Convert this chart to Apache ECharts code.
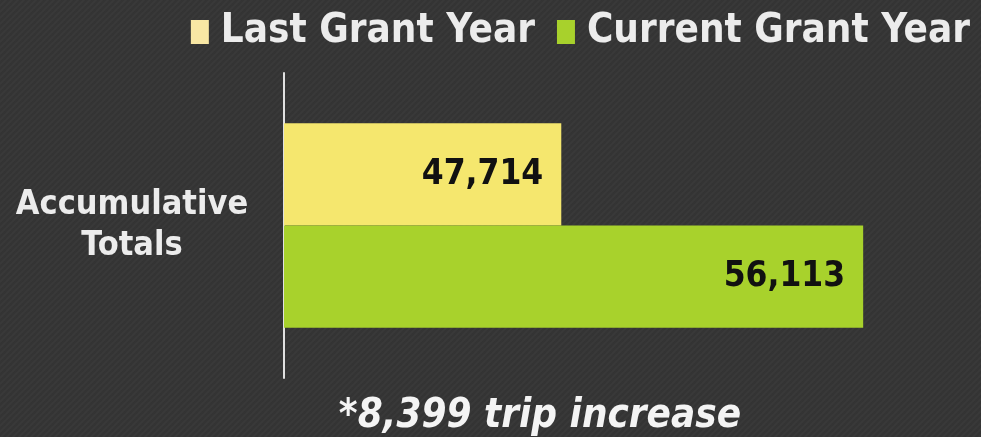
<!DOCTYPE html>
<html>
<head>
    <meta charset="utf-8">
    <title>Accumulative Totals</title>
    <script src="https://cdn.jsdelivr.net/npm/echarts@6/dist/echarts.min.js"></script>
    <style>
        html, body { margin: 0; padding: 0; background: #363636; }
        #chart { width: 981px; height: 437px; }
    </style>
</head>
<body>
    <div id="chart"></div>
    <script type="text/javascript">
        // data
        var categories = ['Accumulative\nTotals'];
        var lastYear = [47714];
        var currentYear = [56113];
        var seriesNames = ['Last Grant Year', 'Current Grant Year'];
        var note = '*8,399 trip increase';

        var font = "'DejaVu Sans Condensed', 'DejaVu Sans', sans-serif";
        var myChart = echarts.init(document.getElementById('chart'));

        // faint diagonal stripes like the slide background
        var tex = document.createElement('canvas');
        tex.width = 6; tex.height = 6;
        var ctx = tex.getContext('2d');
        ctx.fillStyle = '#343434';
        ctx.fillRect(0, 0, 6, 6);
        ctx.strokeStyle = '#393939';
        ctx.lineWidth = 2;
        ctx.beginPath();
        ctx.moveTo(-1, 7); ctx.lineTo(7, -1);
        ctx.moveTo(-4, 4); ctx.lineTo(4, -4);
        ctx.moveTo(2, 10); ctx.lineTo(10, 2);
        ctx.stroke();

        var labelStyle = {
            show: true,
            position: 'insideRight',
            distance: 18,
            color: '#111',
            fontSize: 35,
            fontWeight: 'bold',
            fontFamily: font,
            formatter: function (p) { return p.value.toLocaleString('en-US'); }
        };

        var option = {
            backgroundColor: { image: tex, repeat: 'repeat' },
            textStyle: { fontFamily: font },
            legend: {
                top: 7,
                right: 6,
                icon: 'rect',
                itemWidth: 18,
                itemHeight: 24,
                itemGap: 22,
                textStyle: {
                    color: '#ececec', fontSize: 40, fontWeight: 'bold', fontFamily: font,
                    padding: [0, 0, 0, 7]
                },
                data: [
                    { name: seriesNames[0], itemStyle: { color: '#f8e7a4' } },
                    { name: seriesNames[1], itemStyle: { color: '#a8d12c' } }
                ]
            },
            grid: { left: 284, right: 50, top: 73, bottom: 59, containLabel: false },
            xAxis: {
                type: 'value',
                min: 40000,
                max: 58000,
                show: false
            },
            yAxis: {
                type: 'category',
                inverse: true,
                data: categories,
                axisLine: { lineStyle: { color: '#e0e0e0', width: 2 } },
                axisTick: { show: false },
                axisLabel: {
                    color: '#ececec',
                    fontSize: 34,
                    fontWeight: 'bold',
                    fontFamily: font,
                    align: 'center',
                    margin: 152,
                    lineHeight: 41
                }
            },
            series: [
                {
                    name: seriesNames[0],
                    type: 'bar',
                    data: lastYear,
                    barGap: 0,
                    barCategoryGap: '33%',
                    itemStyle: { color: '#f5e76e' },
                    label: labelStyle
                },
                {
                    name: seriesNames[1],
                    type: 'bar',
                    data: currentYear,
                    barGap: 0,
                    barCategoryGap: '33%',
                    itemStyle: { color: '#a8d22c' },
                    label: labelStyle
                }
            ],
            graphic: [{
                type: 'text',
                x: 540,
                y: 397,
                style: {
                    text: note,
                    fill: '#f4f4f4',
                    font: 'italic bold 40px ' + font,
                    textAlign: 'center'
                }
            }]
        };

        myChart.setOption(option);
    </script>
</body>
</html>
